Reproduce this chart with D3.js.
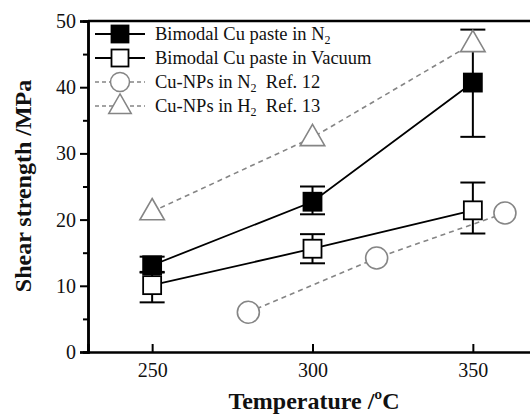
<!DOCTYPE html>
<html>
<head>
<meta charset="utf-8">
<script src="https://cdn.jsdelivr.net/npm/d3@7"></script>
<style>
  body { margin: 0; background: #fff; }
  svg text { font-family: "Liberation Serif", "Times New Roman", serif; }
</style>
</head>
<body>
<svg id="chart" width="530" height="415"></svg>
<script>
// data
const temps = [250, 300, 350];
const n2Paste = [13.1, 22.7, 40.7];
const n2Lo = [12.1, 20.8, 32.5];
const n2Hi = [14.4, 25.0, 48.7];
const vacPaste = [10.1, 15.6, 21.4];
const vacLo = [7.5, 13.4, 17.9];
const vacHi = [12.0, 17.8, 25.6];
const npN2Temps = [280, 320, 360];
const npN2 = [6.0, 14.2, 21.0];
const npH2Temps = [250, 300, 350];
const npH2 = [21.2, 32.4, 46.6];
const yTicks = [0, 10, 20, 30, 40, 50];
const xTicks = [250, 300, 350];

const svg = d3.select("#chart");
const mLeft = 88, mTop = 21, mBottom = 352;
const x = d3.scaleLinear().domain([230, 370]).range([mLeft, 537]);
const y = d3.scaleLinear().domain([0, 50]).range([mBottom, mTop]);
const grey = "#858585";
const serif = "'Liberation Serif', 'Times New Roman', serif";

// axes
const yAxis = d3.axisLeft(y).tickValues(yTicks).tickSize(8).tickPadding(4);
const gy = svg.append("g").attr("transform", `translate(${mLeft},0)`).call(yAxis);
const yMinor = d3.axisLeft(y).tickValues([5, 15, 25, 35, 45]).tickSize(5).tickFormat("");
svg.append("g").attr("transform", `translate(${mLeft},0)`).call(yMinor);

const xAxis = d3.axisBottom(x).tickValues(xTicks).tickSize(-8).tickPadding(11);
const gx = svg.append("g").attr("transform", `translate(0,${mBottom})`).call(xAxis);

svg.selectAll("g").attr("font-family", serif);
svg.selectAll(".domain").attr("stroke", "#000").attr("stroke-width", 2.5);
svg.selectAll(".tick line").attr("stroke", "#000").attr("stroke-width", 2);
svg.selectAll(".tick text").attr("font-size", 20).attr("fill", "#111");

// top frame line
svg.append("line").attr("x1", mLeft).attr("x2", 537).attr("y1", mTop).attr("y2", mTop)
  .attr("stroke", "#000").attr("stroke-width", 2.5);

// axis titles
svg.append("text").attr("x", 314).attr("y", 409).attr("text-anchor", "middle")
  .attr("font-size", 24).attr("font-weight", "bold").attr("fill", "#111").text("Temperature /ºC");
svg.append("text").attr("transform", "translate(31,186) rotate(-90)")
  .attr("text-anchor", "middle").attr("font-size", 24).attr("font-weight", "bold").attr("fill", "#111")
  .text("Shear strength /MPa");

const line = d3.line().x(d => x(d[0])).y(d => y(d[1]));

// connecting lines
svg.append("path").datum(npH2Temps.map((t, i) => [t, npH2[i]])).attr("d", line)
  .attr("fill", "none").attr("stroke", grey).attr("stroke-width", 1.6).attr("stroke-dasharray", "5,4");
svg.append("path").datum(npN2Temps.map((t, i) => [t, npN2[i]])).attr("d", line)
  .attr("fill", "none").attr("stroke", grey).attr("stroke-width", 1.6).attr("stroke-dasharray", "5,4");
svg.append("path").datum(temps.map((t, i) => [t, n2Paste[i]])).attr("d", line)
  .attr("fill", "none").attr("stroke", "#000").attr("stroke-width", 1.8);
svg.append("path").datum(temps.map((t, i) => [t, vacPaste[i]])).attr("d", line)
  .attr("fill", "none").attr("stroke", "#000").attr("stroke-width", 1.8);

// error bars
function errBars(lo, hi) {
  const g = svg.append("g").attr("stroke", "#000").attr("stroke-width", 2);
  temps.forEach((t, i) => {
    g.append("line").attr("x1", x(t)).attr("x2", x(t)).attr("y1", y(lo[i])).attr("y2", y(hi[i]));
    [lo[i], hi[i]].forEach(v => {
      g.append("line").attr("x1", x(t) - 12.5).attr("x2", x(t) + 12.5).attr("y1", y(v)).attr("y2", y(v));
    });
  });
}
errBars(vacLo, vacHi);
errBars(n2Lo, n2Hi);

// markers
const sq = 18;
function squares(vals, fill) {
  svg.append("g").selectAll("rect").data(temps).join("rect")
    .attr("x", (t) => x(t) - sq / 2).attr("y", (t, i) => y(vals[i]) - sq / 2)
    .attr("width", sq).attr("height", sq)
    .attr("fill", fill).attr("stroke", "#000").attr("stroke-width", 1.8);
}
squares(vacPaste, "#fff");
squares(n2Paste, "#000");

svg.append("g").selectAll("circle").data(npN2Temps).join("circle")
  .attr("cx", t => x(t)).attr("cy", (t, i) => y(npN2[i])).attr("r", 11)
  .attr("fill", "#fff").attr("stroke", grey).attr("stroke-width", 1.6);

const tri = d3.symbol().type(d3.symbolTriangle).size(260);
svg.append("g").selectAll("path").data(npH2Temps).join("path")
  .attr("transform", (t, i) => `translate(${x(t)},${y(npH2[i]) + 1})`)
  .attr("d", tri).attr("fill", "#fff").attr("stroke", grey).attr("stroke-width", 1.6);

// legend
const legend = [
  { label: "Bimodal Cu paste in N", sub: "2", tail: "", kind: "sqf" },
  { label: "Bimodal Cu paste in Vacuum", sub: "", tail: "", kind: "sqo" },
  { label: "Cu-NPs in N", sub: "2", tail: "  Ref. 12", kind: "circ" },
  { label: "Cu-NPs in H", sub: "2", tail: "  Ref. 13", kind: "tri" }
];
const lg = svg.append("g").attr("font-family", serif);
legend.forEach((d, i) => {
  const ly = 34 + i * 24;
  const dashed = d.kind === "circ" || d.kind === "tri";
  lg.append("line").attr("x1", 95).attr("x2", 145).attr("y1", ly).attr("y2", ly)
    .attr("stroke", dashed ? grey : "#000").attr("stroke-width", dashed ? 1.4 : 1.8)
    .attr("stroke-dasharray", dashed ? "4,3" : null);
  if (d.kind === "sqf" || d.kind === "sqo") {
    lg.append("rect").attr("x", 120 - 8.5).attr("y", ly - 8.5).attr("width", 17).attr("height", 17)
      .attr("fill", d.kind === "sqf" ? "#000" : "#fff").attr("stroke", "#000").attr("stroke-width", 1.8);
  } else if (d.kind === "circ") {
    lg.append("circle").attr("cx", 120).attr("cy", ly).attr("r", 9.5)
      .attr("fill", "#fff").attr("stroke", grey).attr("stroke-width", 1.5);
  } else {
    lg.append("path").attr("transform", `translate(120,${ly + 1})`)
      .attr("d", d3.symbol().type(d3.symbolTriangle).size(220))
      .attr("fill", "#fff").attr("stroke", grey).attr("stroke-width", 1.5);
  }
  const t = lg.append("text").attr("x", 155).attr("y", ly + 6).attr("font-size", 18.5).attr("fill", "#111");
  t.append("tspan").text(d.label);
  if (d.sub) t.append("tspan").attr("font-size", 12).attr("dy", 4).text(d.sub);
  if (d.tail) t.append("tspan").attr("dy", d.sub ? -4 : 0).attr("xml:space", "preserve").text(d.tail);
});
</script>
</body>
</html>
